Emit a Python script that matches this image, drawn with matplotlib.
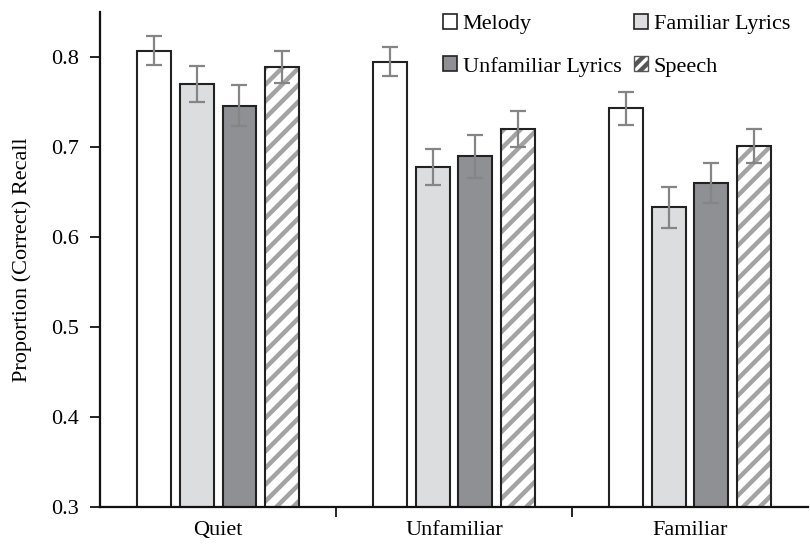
import numpy as np
import matplotlib.pyplot as plt
from matplotlib.patches import Patch

plt.rcParams['font.family'] = ['Liberation Serif', 'DejaVu Serif']
plt.rcParams['hatch.linewidth'] = 3.2

conditions = ["Quiet", "Unfamiliar", "Familiar"]
series = ["Melody", "Familiar Lyrics", "Unfamiliar Lyrics", "Speech"]
values = {
    "Melody": [0.807, 0.795, 0.743],
    "Familiar Lyrics": [0.770, 0.678, 0.633],
    "Unfamiliar Lyrics": [0.746, 0.690, 0.660],
    "Speech": [0.789, 0.720, 0.701],
}
errors = {
    "Melody": [0.016, 0.016, 0.018],
    "Familiar Lyrics": [0.020, 0.020, 0.023],
    "Unfamiliar Lyrics": [0.023, 0.024, 0.022],
    "Speech": [0.018, 0.020, 0.019],
}
fills = ["white", "#dcdddf", "#8f9094", "white"]
hatches = [None, None, None, "//"]
edge = '#222222'
hatch_col = '#a3a3a3'

fig = plt.figure(figsize=(8.1, 5.45), dpi=100)
ax = fig.add_axes([0.1235, 0.0697, 0.874, 0.908])

x = np.arange(len(conditions))
width = 0.143
step = 0.181
handles = []
for i, name in enumerate(series):
    pos = x + (i - 1.5) * step
    if hatches[i]:
        # hatch in grey, then outline on top
        ax.bar(pos, values[name], width, color=fills[i], edgecolor=hatch_col,
               linewidth=0, hatch=hatches[i], zorder=2)
        ax.bar(pos, values[name], width, fill=False, edgecolor=edge,
               linewidth=1.5, zorder=2.5)
        handles.append(Patch(facecolor='white', edgecolor='#555555', hatch='///',
                             linewidth=1.0))
    else:
        ax.bar(pos, values[name], width, color=fills[i], edgecolor=edge,
               linewidth=1.5, zorder=2)
        handles.append(Patch(facecolor=fills[i], edgecolor=edge, linewidth=1.2))
    ax.errorbar(pos, values[name], yerr=errors[name], fmt='none', ecolor='#858585',
                elinewidth=1.6, capsize=6, capthick=1.6, zorder=3)

ax.set_xlim(-0.5, 2.5)
ax.set_ylim(0.3, 0.85)
ax.set_yticks([0.3, 0.4, 0.5, 0.6, 0.7, 0.8])
ax.set_yticklabels(["0.3", "0.4", "0.5", "0.6", "0.7", "0.8"])
ax.set_xticks(x)
ax.set_xticklabels(conditions)
ax.set_xticks([0.5, 1.5], minor=True)
ax.tick_params(axis='x', which='major', length=0, labelsize=16, pad=10)
ax.tick_params(axis='x', which='minor', length=7, width=1.2, direction='out')
ax.tick_params(axis='y', length=7, width=1.2, direction='out', labelsize=16, pad=8)
ax.set_ylabel("Proportion (Correct) Recall", fontsize=16, labelpad=14)

for s in ['top', 'right']:
    ax.spines[s].set_visible(False)
for s in ['left', 'bottom']:
    ax.spines[s].set_linewidth(1.6)
    ax.spines[s].set_color('#111111')

# row-wise legend order: Melody, Familiar / Unfamiliar, Speech
order = [0, 2, 1, 3]
ax.legend([handles[k] for k in order], [series[k] for k in order], ncol=2,
          frameon=False, fontsize=16, loc='upper left',
          bbox_to_anchor=(0.456, 1.037), handlelength=0.65, handleheight=0.65,
          handletextpad=0.25, columnspacing=0.55, labelspacing=1.0)

fig.savefig("out.png", dpi=100)
